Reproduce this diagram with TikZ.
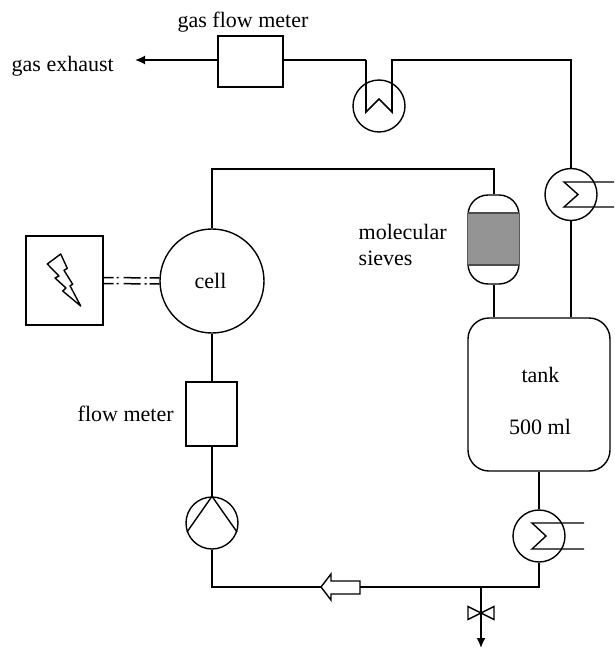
\documentclass[tikz,border=0pt]{standalone}
\usepackage{fontspec}
\setmainfont{Liberation Serif}
\usetikzlibrary{arrows.meta}

\begin{document}
\begin{tikzpicture}[x=1pt, y=-1pt, line width=1.4pt,
    lbl/.style={inner sep=0pt, font=\fontsize{22}{24}\selectfont},
    box/.style={draw, inner sep=0pt, minimum width=#1},
    roundel/.style={circle, draw, inner sep=0pt, minimum size=52pt},
    gastip/.style={-{Latex[length=10pt,width=9pt]}, line width=1.7pt},
    feed/.style={line width=1.5pt, dash pattern=on 10pt off 3pt on 2pt off 5pt on 17pt off 4pt on 2pt off 3pt on 12pt off 9pt}]

    \useasboundingbox (0,0) rectangle (614,648);

    % Nodes
    \node[box=65pt, minimum height=51pt] (gasmeter) at (250.5, 61.5) {};
    \node[roundel] (trap) at (379, 106) {};
    \node[roundel] (hxtop) at (571, 194.5) {};
    \node[draw, rounded corners=20pt, inner sep=0pt, minimum width=51pt, minimum height=89pt] (sieve) at (493.5, 239.5) {};
    \node[draw, rounded corners=21pt, inner sep=0pt, minimum width=142pt, minimum height=153pt] (tank) at (539, 394.5) {};
    \node[roundel] (hxlow) at (539, 536) {};
    \node[roundel] (pump) at (212, 523) {};
    \node[box=51pt, minimum height=64pt] (meter) at (211.5, 414) {};
    \node[circle, draw, inner sep=0pt, minimum size=104pt] (cell) at (212, 281) {};
    \node[box=77pt, minimum height=89pt] (power) at (64.5, 280.5) {};

    \coordinate (exhaust) at (135, 60);
    \coordinate (trapin) at (366, 60);
    \coordinate (trapout) at (392, 60);
    \coordinate (topright) at (571, 60);
    \coordinate (topleft) at (212, 169);
    \coordinate (topsieve) at (494, 169);
    \coordinate (lowleft) at (212, 587);
    \coordinate (lowright) at (539, 587);
    \coordinate (drain) at (481, 587);
    \coordinate (drainend) at (481, 648);
    \coordinate (valve) at (481, 613);

    % Labels
    \node[lbl] (gasmeterlbl) at (243, 22) {gas flow meter};
    \node[lbl, anchor=west] (exhaustlbl) at (11, 66) {gas exhaust};
    \node[lbl] (celllbl) at (210.5, 281) {cell};
    \node[lbl, anchor=west] (flowlbl) at (77, 414) {flow meter};
    \node[lbl, anchor=west] (sievelbl) at (358, 232) {molecular};
    \node[lbl, anchor=west] (sievelbltwo) at (358, 258) {sieves};
    \node[lbl] (tanklbl) at (540.5, 375) {tank};
    \node[lbl] (volumelbl) at (540, 427) {500 ml};

    % Edges
    \draw[gastip] (gasmeter.west |- exhaust) -- (exhaust);
    \draw[line width=1.7pt] (gasmeter.east |- trapin) -- (trapin);
    \draw[line width=1.6pt] (trapin) -- (366, 112) -- (379, 99) -- (392, 112) -- (trapout) -- (topright) -- (hxtop.north);
    \draw[line width=1.6pt] (hxtop.south) -- (hxtop.south |- tank.north);
    \draw (cell.north) -- (topleft) -- (topsieve) -- (topsieve |- sieve.north);
    \draw (topsieve |- sieve.south) -- (topsieve |- tank.north);
    \draw (cell.south) -- (cell.south |- meter.north);
    \draw (pump.north |- meter.south) -- (pump.north);
    \draw (pump.south) -- (lowleft) -- (lowright) -- (hxlow.south);
    \draw (hxlow.north) -- (hxlow.north |- tank.south);
    \draw[gastip] (drain) -- (drainend);

    % Power feed
    \draw[feed] ([yshift=-3pt]power.east) -- ([yshift=-3pt]cell.west);
    \draw[feed] ([yshift=3pt]power.east) -- ([yshift=3pt]cell.west);

    % Symbols
    \draw (pump.north) -- (187, 532);
    \draw (pump.north) -- (237, 532);
    \draw (614, 182) -- (564, 182) -- (578, 194.5) -- (564, 207) -- (614, 207);
    \draw (584, 523) -- (532, 523) -- (546, 536) -- (532, 549) -- (584, 549);
    \draw (valve) -- (468, 606.5) -- (468, 619.5) -- cycle;
    \draw (valve) -- (494, 606.5) -- (494, 619.5) -- cycle;
    \draw[fill=white] (321, 587) -- (331, 574) -- (331, 581) -- (360, 581) -- (360, 594) -- (331, 594) -- (331, 600) -- cycle;
    \fill[black!42] (468, 213) rectangle (519, 265);
    \draw[black!70] (468, 213) -- (519, 213);
    \draw[black!70] (468, 265) -- (519, 265);
    \draw[line join=round] (60.7, 254) -- (47.3, 264) -- (59, 276) -- (55, 278) -- (66, 288) -- (62.7, 291) -- (80.7, 306) -- (70, 285.7) -- (72.7, 284.3) -- (64, 270.3) -- (67.3, 268.3) -- cycle;

\end{tikzpicture}
\end{document}
